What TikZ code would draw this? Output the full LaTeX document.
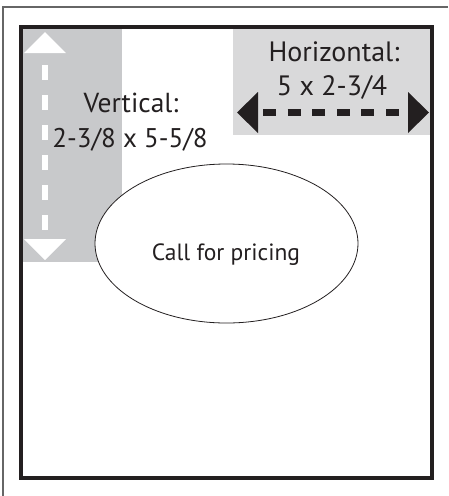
\documentclass[tikz,border=0pt]{standalone}
\usepackage{fontspec}
\setmainfont{PT Sans}
\usetikzlibrary{shapes.geometric}
\definecolor{ink}{HTML}{231F20}
\definecolor{vgray}{HTML}{C8C9CB}
\definecolor{hgray}{HTML}{D9D9DA}
\begin{document}
\begin{tikzpicture}[x=1pt,y=-1pt]
	\useasboundingbox (0,0) rectangle (448,496);
	\draw[black!60,line width=1.2pt] (448,7) -| (3,496);

	\tikzstyle every node=[inner sep=0pt,text=ink]
	\node (vbox)[fill=vgray,anchor=north west,minimum width=101pt,minimum height=235pt] at (21,27){};
	\node (hbox)[fill=hgray,anchor=north east,minimum width=199pt,minimum height=108pt] at (432,27){};
	\node (price)[ellipse,draw=ink,fill=white,line width=0.8pt,minimum width=263pt,minimum height=159pt] at (226.5,243.5){};

	\coordinate (vt) at (45,65);
	\coordinate (vb) at (45,231);
	\fill[white] (24,53) -- (45,32) -- (66,53) -- cycle;
	\fill[white] (24,239) -- (45,260) -- (66,239) -- cycle;
	\draw[white,line width=6pt,dash pattern=on 15pt off 15pt] (vt) -- (vb);

	\coordinate (hl) at (263,112.5);
	\coordinate (hr) at (400,112.5);
	\fill[ink] (258,92) -- (237,112.5) -- (258,133) -- cycle;
	\fill[ink] (408,92) -- (429,112.5) -- (408,133) -- cycle;
	\draw[ink,line width=7.5pt,dash pattern=on 13pt off 11.6pt] (hl) -- (hr);

	\node (vt1)[anchor=base,font=\fontsize{27.5}{32}\selectfont] at (131,112){Vertical:};
	\node (vt2)[anchor=base,font=\fontsize{27}{32}\selectfont] at (130,147){2-3/8 x 5-5/8};
	\node (ht1)[anchor=base,font=\fontsize{28}{32}\selectfont] at (334,61){Horizontal:};
	\node (ht2)[anchor=base,font=\fontsize{28}{32}\selectfont] at (332,95){5 x 2-3/4};
	\node (pt)[anchor=base,font=\fontsize{23.5}{28}\selectfont] at (226,260){Call for pricing};

	\draw[ink,line width=3.6pt] (21,27) rectangle (432,478);
\end{tikzpicture}
\end{document}
